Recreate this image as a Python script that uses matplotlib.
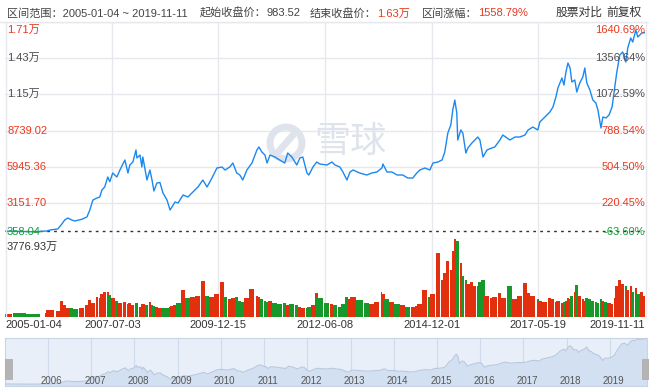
import numpy as np
import matplotlib
matplotlib.use('Agg')
import matplotlib.pyplot as plt
import matplotlib.dates as mdates
import matplotlib.transforms as mtransforms
from matplotlib.patches import Circle, Rectangle
from matplotlib.lines import Line2D

plt.rcParams['font.family'] = ['Liberation Sans', 'Noto Sans CJK SC', 'DejaVu Sans']

# ---------------- data ----------------
dates = [
    '2005-01-04', '2005-05-10', '2005-08-28', '2005-12-25', '2006-01-20', '2006-03-27', '2006-05-01', '2006-05-25', '2006-06-20', '2006-07-24',
    '2006-08-19', '2006-10-17', '2006-11-29', '2006-12-24', '2007-01-19', '2007-02-23', '2007-03-18', '2007-04-05', '2007-04-29', '2007-05-25',
    '2007-06-11', '2007-07-06', '2007-08-10', '2007-09-05', '2007-10-17', '2007-11-12', '2007-11-28', '2007-12-24', '2008-01-19', '2008-01-27',
    '2008-02-22', '2008-03-09', '2008-03-17', '2008-04-21', '2008-05-16', '2008-06-03', '2008-06-19', '2008-07-14', '2008-08-09', '2008-09-04',
    '2008-10-08', '2008-11-03', '2008-11-19', '2008-12-15', '2009-01-10', '2009-02-21', '2009-04-03', '2009-05-15', '2009-06-27', '2009-08-08',
    '2009-09-12', '2009-10-24', '2009-12-05', '2010-01-17', '2010-02-12', '2010-03-24', '2010-04-19', '2010-05-22', '2010-06-17', '2010-07-12',
    '2010-08-16', '2010-09-28', '2010-11-09', '2010-11-26', '2010-12-21', '2011-01-16', '2011-02-03', '2011-02-28', '2011-04-10', '2011-05-21',
    '2011-07-03', '2011-07-28', '2011-09-01', '2011-10-13', '2011-11-08', '2011-12-03', '2012-01-07', '2012-01-23', '2012-02-27', '2012-03-30',
    '2012-04-25', '2012-06-24', '2012-08-06', '2012-09-01', '2012-10-12', '2012-11-07', '2012-12-11', '2013-01-06', '2013-02-01', '2013-03-29',
    '2013-05-28', '2013-07-10', '2013-08-22', '2013-10-03', '2013-10-12', '2013-11-15', '2013-12-27', '2014-02-09', '2014-03-29', '2014-05-10',
    '2014-06-22', '2014-07-26', '2014-08-21', '2014-10-03', '2014-11-14', '2014-12-10', '2015-01-21', '2015-02-25', '2015-03-20', '2015-04-15',
    '2015-05-10', '2015-05-27', '2015-06-13', '2015-06-30', '2015-07-08', '2015-08-03', '2015-08-20', '2015-09-15', '2015-10-02', '2015-11-05',
    '2015-11-30', '2015-12-25', '2016-01-12', '2016-02-07', '2016-03-11', '2016-04-22', '2016-05-17', '2016-06-29', '2016-07-24', '2016-09-22',
    '2016-11-04', '2016-12-16', '2017-01-28', '2017-02-23', '2017-04-05', '2017-05-16', '2017-06-03', '2017-07-15', '2017-08-27', '2017-09-22',
    '2017-10-17', '2017-11-03', '2017-12-07', '2017-12-24', '2018-01-10', '2018-01-27', '2018-02-14', '2018-03-01', '2018-03-26', '2018-04-12',
    '2018-05-07', '2018-06-02', '2018-06-19', '2018-07-06', '2018-08-01', '2018-08-26', '2018-09-21', '2018-10-08', '2018-11-03', '2018-11-19',
    '2018-12-15', '2019-01-10', '2019-02-05', '2019-02-28', '2019-03-16', '2019-04-11', '2019-05-06', '2019-06-01', '2019-06-18', '2019-07-13',
    '2019-07-30', '2019-08-25', '2019-09-11', '2019-10-15', '2019-11-11',
]

prices = [
    983.52, 960, 930, 990, 1068, 1145, 1531, 1840, 1994, 1840,
    1762, 1894, 2071, 2611, 3383, 3537, 3615, 4155, 4386, 5158,
    4795, 5467, 5158, 5699, 6470, 5467, 6084, 6316, 7242, 6624,
    6856, 5930, 6701, 4926, 5699, 4926, 4077, 4695, 4734, 3923,
    3383, 2611, 2843, 3229, 3151, 3769, 3615, 4000, 4386, 4926,
    4386, 5081, 5853, 5930, 5699, 5930, 6238, 5467, 5312, 4926,
    5699, 6238, 7242, 7473, 7087, 6856, 6238, 6856, 6701, 6470,
    6238, 7010, 6701, 6084, 6624, 6701, 5467, 5312, 5930, 6316,
    6161, 6084, 6316, 6084, 5930, 5544, 4926, 5544, 5699, 5467,
    5312, 5467, 5544, 5853, 6161, 5544, 5544, 5312, 5312, 5081,
    5081, 5467, 5699, 5853, 5699, 6238, 6316, 6470, 7087, 8553,
    9171, 10328, 11100, 10097, 8013, 8785, 8553, 7010, 7396, 7782,
    8013, 8245, 8013, 6701, 7242, 7396, 7473, 8013, 8399, 8013,
    8245, 8245, 8399, 8785, 9016, 8785, 9402, 9788, 10174, 10560,
    11332, 12027, 12798, 12258, 13261, 13956, 13570, 12490, 12644, 11717,
    12412, 12876, 13570, 12412, 11872, 11100, 10868, 10328, 8939, 9788,
    9711, 9942, 10560, 12104, 13184, 14572, 14803, 14032, 15113, 15885,
    15576, 16502, 15962, 16271, 16300,
]

volumes = [  # 万
    150, 170, 160, 200, 330, 300, 800, 600, 450, 420,
    380, 420, 600, 830, 700, 980, 900, 1100, 1200, 1230,
    1080, 900, 760, 700, 750, 640, 700, 600, 750, 700,
    500, 600, 650, 560, 750, 600, 550, 500, 460, 430,
    420, 480, 520, 600, 700, 1320, 900, 980, 1000, 1730,
    1000, 950, 1100, 1680, 980, 850, 900, 950, 800, 750,
    900, 1360, 1000, 950, 850, 800, 750, 760, 700, 650,
    700, 600, 620, 560, 480, 450, 430, 500, 600, 1160,
    900, 700, 650, 600, 500, 650, 980, 850, 950, 830,
    700, 650, 750, 1230, 1100, 850, 750, 650, 600, 500,
    480, 550, 650, 1320, 950, 1100, 3120, 1800, 2140, 2700,
    2300, 3200, 3777, 3500, 3700, 2600, 2000, 1800, 1600, 1700,
    1490, 1500, 1700, 1800, 1000, 900, 950, 1150, 900, 1500,
    850, 1000, 1650, 1160, 1000, 850, 800, 750, 900, 850,
    750, 800, 700, 750, 800, 900, 850, 1000, 1200, 1570,
    1000, 850, 800, 900, 850, 800, 750, 700, 850, 800,
    750, 700, 650, 900, 1500, 1800, 1600, 1500, 1300, 1500,
    1200, 1400, 1100, 1200, 1000,
]

start_close = 983.52
price_ticks = [358.04, 3151.70, 5945.36, 8739.02, 11532.68, 14326.34, 17120.0]
price_tick_labels = ['358.04', '3151.70', '5945.36', '8739.02', '1.15万', '1.43万', '1.71万']
pct_tick_labels = ['-63.60%', '220.45%', '504.50%', '788.54%', '1072.59%', '1356.64%', '1640.69%']
tick_label_kind = ['down', 'up', 'up', 'up', 'neutral', 'neutral', 'up']
vol_max = 3776.93
vol_max_label = '3776.93万'
date_ticks = ['2005-01-04', '2007-07-03', '2009-12-15', '2012-06-08', '2014-12-01', '2017-05-19', '2019-11-11']
nav_years = ['2006', '2007', '2008', '2009', '2010', '2011', '2012', '2013', '2014', '2015', '2016', '2017', '2018', '2019']

# ---------------- style ----------------
RED = '#e8381f'
GREEN = '#14a03a'
GRAY = '#4d4d4d'
GRID = '#e7e8ee'
BLUE = '#1b88f0'
BAR_RED = '#e2300f'
BAR_GREEN = '#17982a'
kind_color = {'up': RED, 'down': GREEN, 'neutral': GRAY}

W, H = 649, 388
fig = plt.figure(figsize=(W / 100, H / 100), dpi=100)
fig.patch.set_facecolor('white')


def add_ax(x0, y0, x1, y1):
    return fig.add_axes([x0 / W, 1 - y1 / H, (x1 - x0) / W, (y1 - y0) / H])


def clean(ax):
    for s in ax.spines.values():
        s.set_visible(False)
    ax.set_xticks([])
    ax.set_yticks([])
    ax.patch.set_alpha(0)


t = mdates.datestr2num(dates)
p = np.array(prices, dtype=float)
v = np.array(volumes, dtype=float)
xmin, xmax = t[0], t[-1]
tick_t = mdates.datestr2num(date_ticks)

# header separator line
fig.add_artist(Line2D([0, 1], [1 - 22 / H] * 2, transform=fig.transFigure, color=GRID, lw=1))
# left / right frame lines
for xp in (5.5, 645.5):
    fig.add_artist(Line2D([xp / W] * 2, [1 - 22 / H, 1 - 317 / H], transform=fig.transFigure, color=GRID, lw=1))

# ---------------- price panel ----------------
ax = add_ax(5, 22, 645, 239.2)
clean(ax)
ax.set_xlim(xmin, xmax)
ax.set_ylim(price_ticks[0], price_ticks[-1])
for val in price_ticks:
    ax.axhline(val, color=GRID, lw=1, zorder=0)
for d in tick_t[1:-1]:
    ax.axvline(d, color=GRID, lw=1, zorder=0)

# watermark
ax.text(350, H - 142, '雪球', transform=mtransforms.IdentityTransform(), fontsize=26,
        color='#dfe4ec', ha='center', va='center', family=['Noto Sans CJK SC'], zorder=0.5)
ax.add_artist(Circle((286, H - 143), 16, transform=mtransforms.IdentityTransform(), fill=False,
                     lw=5, color='#dfe4ec', zorder=0.5))
ax.add_artist(Line2D([279, 293], [H - 151, H - 135], transform=mtransforms.IdentityTransform(),
                     lw=5, color='#dfe4ec', zorder=0.5, solid_capstyle='round'))

ax.axhline(start_close, color='#333333', lw=1, ls=(0, (2, 3)), zorder=1)
ax.plot(t, p, color=BLUE, lw=1.0, zorder=3)

trans_l = mtransforms.blended_transform_factory(ax.transAxes, ax.transData)
n = len(price_ticks)
for i, (val, lab, plab, kind) in enumerate(zip(price_ticks, price_tick_labels, pct_tick_labels, tick_label_kind)):
    va = 'bottom' if i == 0 else ('top' if i == n - 1 else 'center')
    off = 2 if i == 0 else (-3 if i == n - 1 else 0)
    tr = trans_l + mtransforms.ScaledTranslation(0, off / 100, fig.dpi_scale_trans)
    ax.text(2 / 640, val, lab, transform=tr, ha='left', va=va, fontsize=8, color=kind_color[kind], zorder=4)
    ax.text(1.0, val, plab, transform=tr, ha='right', va=va, fontsize=8, color=kind_color[kind], zorder=4)

# ---------------- volume panel ----------------
axv = add_ax(5, 239.2, 645, 317)
clean(axv)
axv.set_xlim(xmin, xmax)
axv.set_ylim(0, vol_max)
for d in tick_t[1:-1]:
    axv.axvline(d, color=GRID, lw=1, zorder=0)
widths = np.append(np.diff(t), np.diff(t)[-1])
up = np.concatenate([[True], p[1:] >= p[:-1]])
cols = [BAR_RED if u else BAR_GREEN for u in up]
axv.bar(t, v, width=widths, align='center', color=cols, lw=0, zorder=2)
axv.text(2 / 640, 1 - 8 / 77.8, vol_max_label, transform=axv.transAxes, ha='left', va='center',
         fontsize=8, color='#333333', zorder=4)

trans_d = mtransforms.blended_transform_factory(axv.transData, axv.transAxes)
for i, (d, lab) in enumerate(zip(tick_t, date_ticks)):
    ha = 'left' if i == 0 else ('right' if i == len(date_ticks) - 1 else 'center')
    axv.text(d, -8 / 77.8, lab, transform=trans_d, ha=ha, va='center', fontsize=8, color='#333333', clip_on=False)

# ---------------- navigator ----------------
axn = add_ax(5, 338, 647, 386)
axn.set_xticks([])
axn.set_yticks([])
axn.set_facecolor('#e8eff9')
for s in axn.spines.values():
    s.set_color('#c8d5e6')
    s.set_linewidth(0.8)
axn.set_xlim(xmin, xmax)
nav_low = p.min() * 0.32
axn.set_ylim(nav_low, p.max() * 1.005)
year_t = mdates.datestr2num([y + '-01-01' for y in nav_years])
for d in year_t:
    axn.axvline(d, color='#cfdaea', lw=0.8, zorder=1)
axn.fill_between(t, p, nav_low, color='#d3e0f2', lw=0, zorder=2)
axn.plot(t, p, color='#b8c8df', lw=0.8, zorder=3)
trans_n = mtransforms.blended_transform_factory(axn.transData, axn.transAxes) + \
    mtransforms.ScaledTranslation(4 / 100, 0, fig.dpi_scale_trans)
for d, y in zip(year_t, nav_years):
    axn.text(d, 5 / 48, y, transform=trans_n, ha='center', va='center', fontsize=7, color='#555555', zorder=4)

# handles
for hx in (5, 642):
    fig.add_artist(Rectangle((hx, H - 379), 7, 20, transform=mtransforms.IdentityTransform(),
                             facecolor='#b4b4b4', edgecolor='#a8a8a8', lw=0.5))

# ---------------- header ----------------
renderer = fig.canvas.get_renderer()


def seg_text(x_px, parts, y_px=13.5, size=8):
    x = x_px
    for txt, col in parts:
        tt = fig.text(x / W, 1 - y_px / H, txt, color=col, fontsize=size, ha='left', va='center')
        x += tt.get_window_extent(renderer).width


HDR = '#444444'
seg_text(7, [('区间范围：2005-01-04 ~ 2019-11-11', HDR)])
seg_text(200, [('起始收盘价：', HDR), ('983.52', HDR)])
seg_text(310, [('结束收盘价：', HDR), ('1.63万', RED)])
seg_text(422, [('区间涨幅：', HDR), ('1558.79%', RED)])
seg_text(556, [('股票对比', '#333333')], y_px=12.5, size=8.5)
seg_text(606, [('前复权', '#333333')], y_px=12.5, size=8.5)

fig.savefig('out.png', dpi=100, facecolor='white')
